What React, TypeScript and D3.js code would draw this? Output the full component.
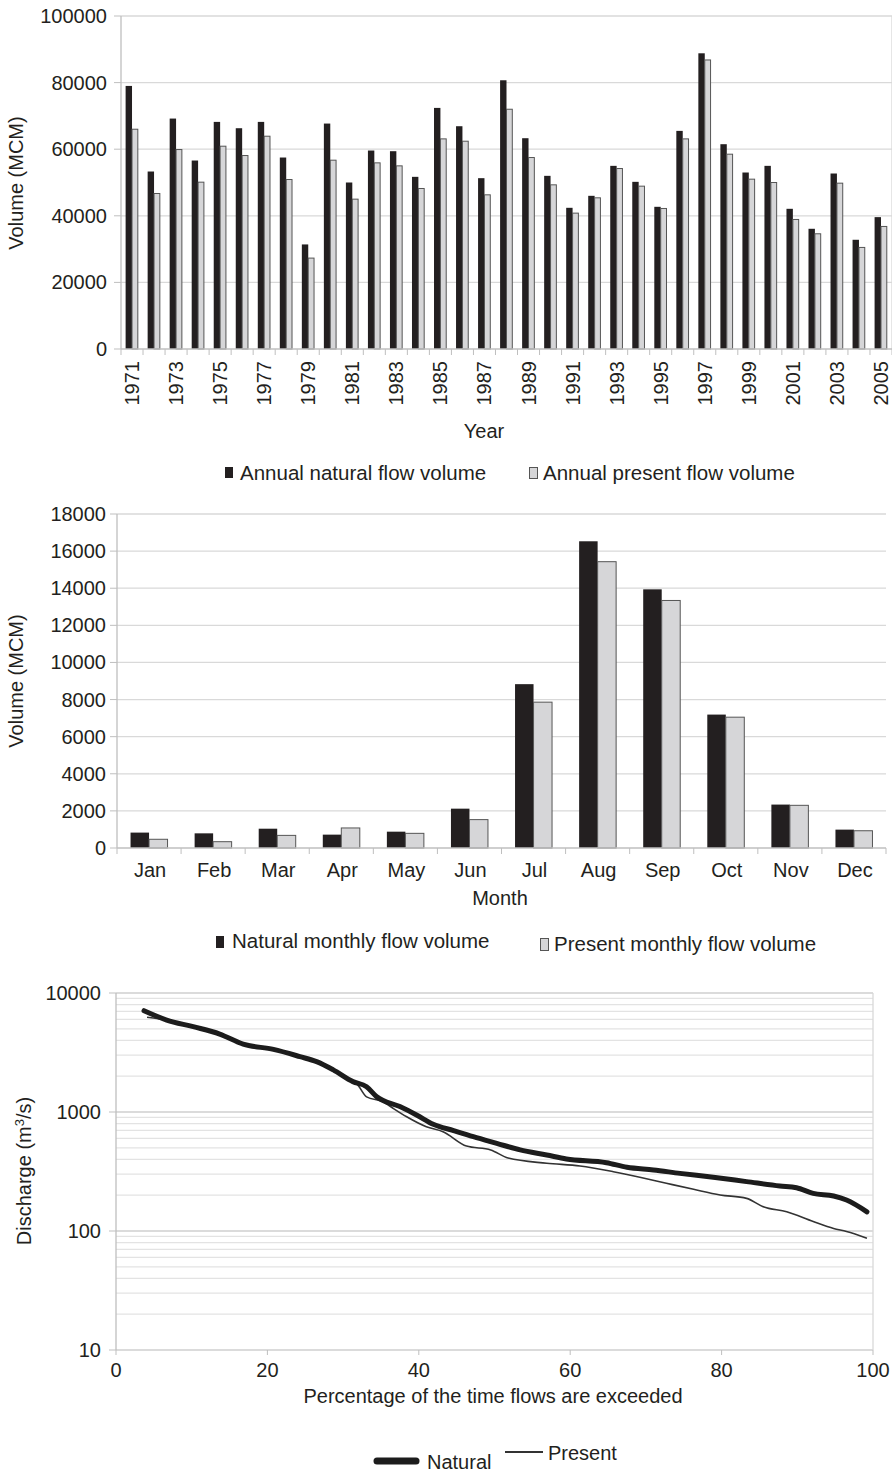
import React from 'react';
import * as d3 from 'd3';

const FONT = "'Liberation Sans', Arial, Helvetica, sans-serif";

// ---------- Chart 1 data ----------
const years = [
  '1971','1972','1973','1974','1975','1976','1977','1978','1979','1980',
  '1981','1982','1983','1984','1985','1986','1987','1988','1989','1990',
  '1991','1992','1993','1994','1995','1996','1997','1998','1999','2000',
  '2001','2002','2003','2004','2005',
];
const annualNatural = [
  79000, 53300, 69200, 56600, 68200, 66300, 68200, 57500, 31400, 67700,
  50000, 59600, 59400, 51700, 72400, 66900, 51300, 80700, 63300, 52000,
  42400, 46000, 55000, 50200, 42700, 65500, 88800, 61500, 53000, 55000,
  42100, 36100, 52700, 32800, 39600,
];
const annualPresent = [
  66000, 46700, 59900, 50100, 60900, 58100, 63900, 50900, 27300, 56700,
  45000, 55900, 55000, 48200, 63100, 62400, 46300, 72000, 57500, 49300,
  40800, 45400, 54200, 48900, 42200, 63100, 86800, 58500, 51000, 50000,
  38900, 34600, 49800, 30500, 36800,
];
const annualTicks = [0, 20000, 40000, 60000, 80000, 100000];

// ---------- Chart 2 data ----------
const months = ['Jan','Feb','Mar','Apr','May','Jun','Jul','Aug','Sep','Oct','Nov','Dec'];
const monthlyNatural = [830, 790, 1040, 720, 880, 2120, 8830, 16530, 13940, 7190, 2340, 990];
const monthlyPresent = [470, 340, 680, 1080, 790, 1530, 7860, 15430, 13340, 7050, 2300, 930];
const monthlyTicks = [0, 2000, 4000, 6000, 8000, 10000, 12000, 14000, 16000, 18000];

// ---------- Chart 3 data ----------
const naturalPct = [3.7, 6.7, 10.2, 13.7, 16.8, 20.8, 24.3, 26.5, 28.7, 31.3, 33.1, 34.4, 37.5, 39.7, 41.9, 44.6, 47.2, 50.3, 53.4, 56.9, 59.5, 64.8, 67.5, 71.0, 74.5, 78.9, 83.3, 87.7, 89.9, 92.1, 94.8, 96.5, 99.2];
const naturalQ = [7100, 5930, 5210, 4520, 3720, 3360, 2920, 2650, 2260, 1800, 1630, 1350, 1110, 945, 789, 697, 620, 545, 480, 435, 403, 375, 343, 326, 305, 283, 260, 239, 231, 207, 197, 182, 145];
const presentPct = [4.1, 6.7, 10.2, 13.7, 16.8, 20.8, 24.3, 26.5, 28.7, 31.3, 31.8, 33.1, 35.3, 36.6, 38.4, 41.0, 43.2, 46.3, 49.5, 51.8, 56.9, 61.3, 65.7, 69.2, 72.7, 76.3, 79.8, 83.3, 85.5, 88.6, 92.1, 94.8, 96.5, 99.2];
const presentQ = [6250, 5900, 5150, 4480, 3680, 3330, 2920, 2640, 2230, 1780, 1720, 1340, 1220, 1075, 912, 752, 683, 517, 480, 410, 371, 352, 315, 283, 252, 224, 201, 188, 160, 145, 120, 105, 99, 87];
const pctTicks = [0, 20, 40, 60, 80, 100];
const dischargeTicks = [10, 100, 1000, 10000];

const GRID = '#d9d9d9';
const AXIS = '#bfbfbf';
const DARK = '#231f20';
const LIGHT = '#d6d6d8';
const OUTLINE = '#555555';
const TXT = '#231f20';
const FS = 20;
const LFS = 20.5;

function AnnualChart() {
  const x = d3.scaleBand<string>().domain(years).range([121, 892]);
  const y = d3.scaleLinear().domain([0, 100000]).range([349, 16]);
  const bw = 6.4;
  const off = (x.bandwidth() - 2 * bw) / 2;
  return (
    <g>
      {annualTicks.map((t) => (
        <g key={t}>
          {t > 0 && <line x1={121} x2={892} y1={y(t)} y2={y(t)} stroke={GRID} strokeWidth={1.3} />}
          <line x1={114} x2={121} y1={y(t)} y2={y(t)} stroke={AXIS} />
          <text x={107} y={y(t)} dy="0.35em" textAnchor="end" fontSize={FS} fill={TXT}>{t}</text>
        </g>
      ))}
      <line x1={892} x2={892} y1={16} y2={349} stroke={GRID} strokeWidth={1.3} />
      <line x1={121} x2={121} y1={16} y2={349} stroke={AXIS} strokeWidth={1.3} />
      {years.map((yr, i) => (
        <g key={yr}>
          <rect x={(x(yr) as number) + off} y={y(annualNatural[i])} width={bw} height={y(0) - y(annualNatural[i])} fill={DARK} />
          <rect x={(x(yr) as number) + off + bw} y={y(annualPresent[i])} width={bw - 0.6} height={y(0) - y(annualPresent[i])} fill={LIGHT} stroke={OUTLINE} strokeWidth={1} />
        </g>
      ))}
      <line x1={121} x2={892} y1={349} y2={349} stroke={AXIS} strokeWidth={1.3} />
      {years.concat(['end']).map((yr, i) => {
        const xx = 121 + i * x.step();
        return <line key={'t' + i} x1={xx} x2={xx} y1={349} y2={355} stroke={AXIS} />;
      })}
      {years.filter((_, i) => i % 2 === 0).map((yr) => {
        const cx = (x(yr) as number) + x.bandwidth() / 2;
        return (
          <text key={'l' + yr} transform={`translate(${cx + 7},361) rotate(-90)`} textAnchor="end" fontSize={FS} fill={TXT}>{yr}</text>
        );
      })}
      <text x={484} y={438} textAnchor="middle" fontSize={FS} fill={TXT}>Year</text>
      <text transform="translate(23,183) rotate(-90)" textAnchor="middle" fontSize={FS} fill={TXT}>Volume (MCM)</text>
      <rect x={225} y={467} width={8} height={11} fill={DARK} />
      <text x={240} y={480} fontSize={LFS} fill={TXT}>Annual natural flow volume</text>
      <rect x={529.5} y={467.5} width={8} height={11} fill={LIGHT} stroke={OUTLINE} strokeWidth={1} />
      <text x={543} y={480} fontSize={LFS} fill={TXT}>Annual present flow volume</text>
    </g>
  );
}

function MonthlyChart() {
  const x = d3.scaleBand<string>().domain(months).range([117, 886]);
  const y = d3.scaleLinear().domain([0, 18000]).range([848, 514]);
  const bw = 18.5;
  const off = (x.bandwidth() - 2 * bw) / 2;
  return (
    <g>
      {monthlyTicks.map((t) => (
        <g key={t}>
          {t > 0 && <line x1={117} x2={886} y1={y(t)} y2={y(t)} stroke={GRID} strokeWidth={1.3} />}
          <line x1={110} x2={117} y1={y(t)} y2={y(t)} stroke={AXIS} />
          <text x={106} y={y(t)} dy="0.35em" textAnchor="end" fontSize={FS} fill={TXT}>{t}</text>
        </g>
      ))}
      <line x1={117} x2={117} y1={514} y2={848} stroke={AXIS} strokeWidth={1.3} />
      {months.map((m, i) => (
        <g key={m}>
          <rect x={(x(m) as number) + off} y={y(monthlyNatural[i])} width={bw} height={y(0) - y(monthlyNatural[i])} fill={DARK} />
          <rect x={(x(m) as number) + off + bw} y={y(monthlyPresent[i])} width={bw} height={y(0) - y(monthlyPresent[i])} fill={LIGHT} stroke={OUTLINE} strokeWidth={1} />
        </g>
      ))}
      <line x1={117} x2={886} y1={848} y2={848} stroke={AXIS} strokeWidth={1.3} />
      {months.concat(['end']).map((m, i) => {
        const xx = 117 + i * x.step();
        return <line key={'t' + i} x1={xx} x2={xx} y1={848} y2={854} stroke={AXIS} />;
      })}
      {months.map((m) => (
        <text key={'l' + m} x={(x(m) as number) + x.bandwidth() / 2 + 1} y={877} textAnchor="middle" fontSize={FS} fill={TXT}>{m}</text>
      ))}
      <text x={500} y={905} textAnchor="middle" fontSize={FS} fill={TXT}>Month</text>
      <text transform="translate(23,681) rotate(-90)" textAnchor="middle" fontSize={FS} fill={TXT}>Volume (MCM)</text>
      <rect x={216} y={936} width={8} height={12} fill={DARK} />
      <text x={232} y={948} fontSize={LFS} fill={TXT}>Natural monthly flow volume</text>
      <rect x={540.5} y={938.5} width={8} height={12} fill={LIGHT} stroke={OUTLINE} strokeWidth={1} />
      <text x={554} y={951} fontSize={LFS} fill={TXT}>Present monthly flow volume</text>
    </g>
  );
}

function DurationChart() {
  const x = d3.scaleLinear().domain([0, 100]).range([116, 873]);
  const y = d3.scaleLog().domain([10, 10000]).range([1350, 993]);
  const minor: number[] = [];
  [10, 100, 1000].forEach((d) => {
    for (let k = 2; k <= 9; k++) minor.push(d * k);
  });
  const line = d3.line<[number, number]>().x((d) => x(d[0])).y((d) => y(d[1])).curve(d3.curveMonotoneX);
  const nat = naturalPct.map((p, i) => [p, naturalQ[i]] as [number, number]);
  const pre = presentPct.map((p, i) => [p, presentQ[i]] as [number, number]);
  return (
    <g>
      {minor.map((t) => (
        <line key={'m' + t} x1={116} x2={873} y1={y(t)} y2={y(t)} stroke="#e3e3e3" strokeWidth={1.2} />
      ))}
      {dischargeTicks.map((t) => (
        <g key={t}>
          <line x1={116} x2={873} y1={y(t)} y2={y(t)} stroke="#cfcfcf" strokeWidth={1.6} />
          <line x1={109} x2={116} y1={y(t)} y2={y(t)} stroke={AXIS} />
          <text x={101} y={y(t)} dy="0.35em" textAnchor="end" fontSize={FS} fill={TXT}>{t}</text>
        </g>
      ))}
      <line x1={116} x2={116} y1={993} y2={1350} stroke={AXIS} strokeWidth={1.3} />
      <line x1={873} x2={873} y1={993} y2={1350} stroke={GRID} strokeWidth={1.3} />
      {pctTicks.map((t) => (
        <g key={'x' + t}>
          <line x1={x(t)} x2={x(t)} y1={1350} y2={1355} stroke={AXIS} />
          <text x={x(t)} y={1377} textAnchor="middle" fontSize={FS} fill={TXT}>{t}</text>
        </g>
      ))}
      <path d={line(pre) || ''} fill="none" stroke="#333333" strokeWidth={1.6} strokeLinejoin="round" />
      <path d={line(nat) || ''} fill="none" stroke="#1c1c1c" strokeWidth={5} strokeLinejoin="round" strokeLinecap="round" />
      <text x={493} y={1403} textAnchor="middle" fontSize={FS} fill={TXT}>Percentage of the time flows are exceeded</text>
      <text transform="translate(31,1171) rotate(-90)" textAnchor="middle" fontSize={FS} fill={TXT}>
        Discharge (m<tspan dy="-7" fontSize={13}>3</tspan><tspan dy="7">/s)</tspan>
      </text>
      <line x1={377} x2={416} y1={1461} y2={1461} stroke="#1c1c1c" strokeWidth={7} strokeLinecap="round" />
      <text x={427} y={1469} fontSize={FS} fill={TXT}>Natural</text>
      <line x1={505} x2={543} y1={1452} y2={1452} stroke="#333333" strokeWidth={1.8} />
      <text x={548} y={1460} fontSize={FS} fill={TXT}>Present</text>
    </g>
  );
}

export default function App() {
  return (
    <svg width={892} height={1474} viewBox="0 0 892 1474" style={{ display: 'block', position: 'absolute', left: 0, top: 0, background: '#fff' }} fontFamily={FONT}>
      <rect x={0} y={0} width={892} height={1474} fill="#fff" />
      <AnnualChart />
      <MonthlyChart />
      <DurationChart />
    </svg>
  );
}
